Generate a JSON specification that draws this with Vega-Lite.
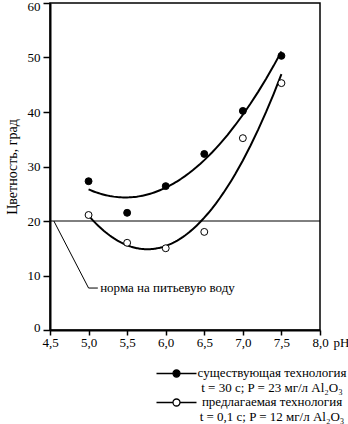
{
  "$schema": "https://vega.github.io/schema/vega-lite/v6.json",
  "width": 270,
  "height": 327,
  "autosize": {"type": "none"},
  "padding": {"left": 50, "top": 3, "right": 28, "bottom": 94},
  "background": "white",
  "config": {
    "view": {"stroke": "black", "strokeWidth": 1.5},
    "font": "Liberation Serif, Times New Roman, DejaVu Serif, serif",
    "axis": {
      "grid": false,
      "domainColor": "black",
      "domainWidth": 2,
      "tickColor": "black",
      "tickWidth": 1.5,
      "labelColor": "black",
      "labelFont": "Liberation Serif, Times New Roman, DejaVu Serif, serif",
      "labelFontSize": 13,
      "labelOverlap": false,
      "labelFlush": false,
      "labelBound": false,
      "labelSeparation": 0,
      "titleColor": "black",
      "titleFont": "Liberation Serif, Times New Roman, DejaVu Serif, serif",
      "titleFontWeight": "normal"
    }
  },
  "datasets": {
    "points": [
      {"x": 5.0, "y": 27.3, "series": "existing"},
      {"x": 5.5, "y": 21.5, "series": "existing"},
      {"x": 6.0, "y": 26.4, "series": "existing"},
      {"x": 6.5, "y": 32.3, "series": "existing"},
      {"x": 7.0, "y": 40.2, "series": "existing"},
      {"x": 7.5, "y": 50.3, "series": "existing"},
      {"x": 5.0, "y": 21.1, "series": "proposed"},
      {"x": 5.5, "y": 16.0, "series": "proposed"},
      {"x": 6.0, "y": 15.0, "series": "proposed"},
      {"x": 6.5, "y": 18.0, "series": "proposed"},
      {"x": 7.0, "y": 35.2, "series": "proposed"},
      {"x": 7.5, "y": 45.3, "series": "proposed"}
    ],
    "norm": [
      {"i": 1, "x": 4.55, "y": 20},
      {"i": 2, "x": 5.0, "y": 7.7},
      {"i": 3, "x": 5.12, "y": 7.7}
    ],
    "limit": [
      {"i": 1, "x": 4.5, "y": 20},
      {"i": 2, "x": 8.0, "y": 20}
    ]
  },
  "encoding": {
    "x": {"field": "x", "type": "quantitative", "scale": {"domain": [4.5, 8], "nice": false, "zero": false},
      "axis": {"values": [4.5, 5, 5.5, 6, 6.5, 7, 7.5, 8], "labelExpr": "replace(format(datum.value, '.1f'), '.', ',')",
        "labelOverlap": false, "labelFlush": false,
        "tickSize": 5, "labelPadding": 1, "title": "pH", "titleFontSize": 13, "titleX": 283, "titleY": 6,
        "titleAlign": "left", "titleBaseline": "top", "titleAnchor": "start"}},
    "y": {"field": "y", "type": "quantitative", "scale": {"domain": [0, 60], "nice": false},
      "axis": {"values": [0, 10, 20, 30, 40, 50, 60], "tickSize": 7, "labelPadding": 3,
        "labelOverlap": false, "labelFlush": false,
        "labelOffset": {"condition": [{"test": "datum.value == 60", "value": 3}, {"test": "datum.value == 0", "value": -3}], "value": 0},
        "title": "Цветность, град", "titleFontSize": 14, "titlePadding": 8}}
  },
  "layer": [
    {
      "data": {"name": "points"},
      "transform": [
        {"regression": "y", "on": "x", "groupby": ["series"], "method": "poly", "order": 2, "extent": [5, 7.5]}
      ],
      "mark": {"type": "line", "color": "black", "strokeWidth": 2},
      "encoding": {
        "detail": {"field": "series", "type": "nominal"}
      }
    },
    {
      "data": {"name": "limit"},
      "mark": {"type": "line", "color": "black", "strokeWidth": 1},
      "encoding": {"order": {"field": "i", "type": "quantitative"}}
    },
    {
      "data": {"name": "norm"},
      "mark": {"type": "line", "color": "black", "strokeWidth": 1},
      "encoding": {"order": {"field": "i", "type": "quantitative"}}
    },
    {
      "data": {"values": [{"x": 5.15, "y": 7.7, "label": "норма на питьевую воду"}]},
      "mark": {"type": "text", "align": "left", "baseline": "middle", "fontSize": 13, "color": "black"},
      "encoding": {"text": {"field": "label"}}
    },
    {
      "data": {"name": "points"},
      "mark": {"type": "point", "shape": "circle", "filled": true, "size": 48, "stroke": "black", "strokeWidth": 1, "opacity": 1},
      "encoding": {
        "fill": {
          "field": "series", "type": "nominal",
          "scale": {"domain": ["existing", "proposed"], "range": ["black", "white"]},
          "legend": {
            "orient": "none", "legendX": 120, "legendY": 367, "direction": "vertical", "title": null,
            "symbolType": "M-4,-0.6H-0.7M0.7,-0.6H4M-0.7,-0.6A0.7,0.7 0 1,1 0.7,-0.6A0.7,0.7 0 1,1 -0.7,-0.6Z",
            "symbolSize": 100, "symbolStrokeColor": "black", "symbolStrokeWidth": 1.3, "symbolOpacity": 1,
            "labelExpr": "datum.label == 'existing' ? ['существующая технология', 't = 30 с; P = 23 мг/л Al₂O₃'] : ['предлагаемая технология', 't = 0,1 с; P = 12 мг/л Al₂O₃']",
            "labelFont": "Liberation Serif, Times New Roman, DejaVu Serif, serif", "labelFontSize": 13, "labelColor": "black", "labelAlign": "center",
            "labelOffset": 89, "labelBaseline": "alphabetic", "labelLimit": 0, "rowPadding": 0,
            "encode": {"labels": {"update": {"lineHeight": {"value": 15}}}}
          }
        }
      }
    }
  ]
}
